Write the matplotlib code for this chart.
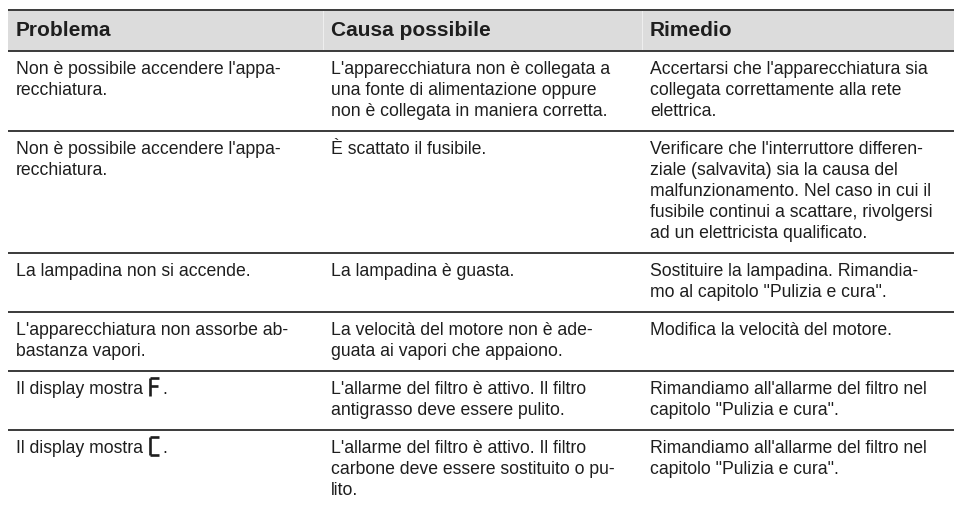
import matplotlib
matplotlib.use("Agg")
import matplotlib.pyplot as plt
from matplotlib.patches import Rectangle

# ---- table content ----
headers = ["Problema", "Causa possibile", "Rimedio"]

problemi = [
    "Non è possibile accendere l'appa-\nrecchiatura.",
    "Non è possibile accendere l'appa-\nrecchiatura.",
    "La lampadina non si accende.",
    "L'apparecchiatura non assorbe ab-\nbastanza vapori.",
    "Il display mostra",
    "Il display mostra",
]
simboli_display = [None, None, None, None, "F", "C"]

cause = [
    "L'apparecchiatura non è collegata a\nuna fonte di alimentazione oppure\nnon è collegata in maniera corretta.",
    "È scattato il fusibile.",
    "La lampadina è guasta.",
    "La velocità del motore non è ade-\nguata ai vapori che appaiono.",
    "L'allarme del filtro è attivo. Il filtro\nantigrasso deve essere pulito.",
    "L'allarme del filtro è attivo. Il filtro\ncarbone deve essere sostituito o pu-\nlito.",
]

rimedi = [
    "Accertarsi che l'apparecchiatura sia\ncollegata correttamente alla rete\nelettrica.",
    "Verificare che l'interruttore differen-\nziale (salvavita) sia la causa del\nmalfunzionamento. Nel caso in cui il\nfusibile continui a scattare, rivolgersi\nad un elettricista qualificato.",
    "Sostituire la lampadina. Rimandia-\nmo al capitolo \"Pulizia e cura\".",
    "Modifica la velocità del motore.",
    "Rimandiamo all'allarme del filtro nel\ncapitolo \"Pulizia e cura\".",
    "Rimandiamo all'allarme del filtro nel\ncapitolo \"Pulizia e cura\".",
]

# ---- layout (pixels) ----
W, H = 955, 508
FONT = "Liberation Sans"
FS = 12.7
FS_H = 15.0
TXT_C = "#1e1e1e"
LINE_C = "#3a3a3a"
HEAD_BG = "#dcdcdc"
X0, X1 = 8, 954
col_text_x = [16, 331, 650]
col_bounds = [323, 642]
top_y = 10
head_h = 41
first_base = 23
line_step = 21
row_base_h = 38

fig = plt.figure(figsize=(W / 100, H / 100), dpi=100)
ax = fig.add_axes([0, 0, 1, 1])
ax.set_xlim(0, W)
ax.set_ylim(H, 0)
ax.axis("off")

# header
ax.add_patch(Rectangle((X0, top_y), X1 - X0, head_h, facecolor=HEAD_BG, edgecolor="none"))
for cx in col_bounds:
    ax.vlines(cx, top_y, top_y + head_h, color="#eeeeee", lw=0.8)
for x, h in zip(col_text_x, headers):
    ax.text(x, top_y + 26, h, fontsize=FS_H, fontweight="bold", family=FONT,
            color=TXT_C, va="baseline", ha="left")
ax.hlines([top_y, top_y + head_h], X0, X1, color=LINE_C, lw=1.4)

fig.canvas.draw()
renderer = fig.canvas.get_renderer()
inv = ax.transData.inverted()

y = top_y + head_h
row_lines = []
for i in range(len(problemi)):
    cells = [problemi[i], cause[i], rimedi[i]]
    nmax = max(c.count("\n") + 1 for c in cells)
    for x, c in zip(col_text_x, cells):
        for j, ln in enumerate(c.split("\n")):
            t = ax.text(x, y + first_base + j * line_step, ln, fontsize=FS, family=FONT,
                        color=TXT_C, va="baseline", ha="left")
            if x == col_text_x[0] and simboli_display[i] is not None:
                bb = t.get_window_extent(renderer)
                xe = inv.transform((bb.x1, bb.y0))[0]
                base = y + first_base
                gx0 = xe + 7
                gw, gh = 9, 18
                gtop = base - 16
                gbot = gtop + gh
                lw = 1.9
                sym = simboli_display[i]
                kw = dict(color=TXT_C, lw=lw, solid_capstyle="butt")
                ax.plot([gx0, gx0], [gtop, gbot], **kw)
                ax.plot([gx0, gx0 + gw], [gtop, gtop], **kw)
                if sym == "F":
                    ax.plot([gx0, gx0 + gw * 0.85], [gtop + gh * 0.45, gtop + gh * 0.45], **kw)
                else:
                    ax.plot([gx0, gx0 + gw], [gbot, gbot], **kw)
                ax.text(gx0 + gw + 3, base, ".", fontsize=FS, family=FONT,
                        color=TXT_C, va="baseline", ha="left")
    y = y + row_base_h + (nmax - 1) * line_step
    row_lines.append(y)

ax.hlines(row_lines[:-1], X0, X1, color=LINE_C, lw=1.4)

fig.savefig("out.png", dpi=100)
